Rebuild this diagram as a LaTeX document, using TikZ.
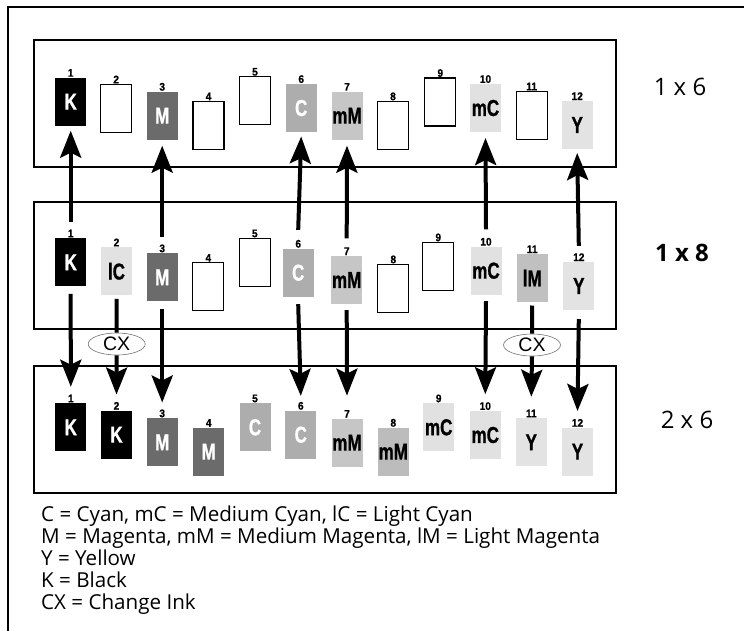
\documentclass[tikz,border=0pt]{standalone}
\usepackage{fontspec}
\usetikzlibrary{arrows.meta,shapes.geometric}
\setmainfont{Liberation Sans}
\newfontfamily\legfont{Open Sans}
\newfontfamily\inkfam[FakeStretch=0.74,FakeBold=1]{Liberation Sans}
\newfontfamily\numfam[FakeStretch=0.92,FakeBold=0.8]{Liberation Sans}
\newfontfamily\helv{Liberation Sans}
\definecolor{inkM}{HTML}{6B6B6B}
\definecolor{inkC}{HTML}{ADADAD}
\definecolor{inkmM}{HTML}{C6C6C6}
\definecolor{inkmMd}{HTML}{BCBCBC}
\definecolor{inkmC}{HTML}{E1E1E1}
\definecolor{inkY}{HTML}{E3E3E3}
\definecolor{inklC}{HTML}{E2E2E2}
\definecolor{inklM}{HTML}{C0C0C0}
\tikzset{
 inkbx/.style={minimum width=31pt, minimum height=48pt, inner sep=0pt, outer sep=0pt,
   font=\inkfam\bfseries\fontsize{23}{23}\selectfont},
 ebox/.style={inkbx, draw=black, line width=1.3pt, fill=white},
 kbox/.style={inkbx, fill=black, text=white},
 mbox/.style={inkbx, fill=inkM, text=white},
 cbox/.style={inkbx, fill=inkC, text=white},
 mmbox/.style={inkbx, fill=inkmM, text=black},
 mmdbox/.style={inkbx, fill=inkmMd, text=black},
 mcbox/.style={inkbx, fill=inkmC, text=black},
 ybox/.style={inkbx, fill=inkY, text=black},
 lcbox/.style={inkbx, fill=inklC, text=black},
 lmbox/.style={inkbx, fill=inklM, text=black},
 numlbl/.style={inner sep=0pt, outer sep=0pt, anchor=south, font=\numfam\bfseries\fontsize{11}{11}\selectfont},
 panel/.style={draw, line width=1.6pt, minimum width=582pt, minimum height=127pt, anchor=north west, inner sep=0pt, outer sep=0pt},
 bigarrow/.style={line width=4pt, -{Stealth[length=27pt,width=21pt,inset=5pt]}},
 shaft/.style={line width=4pt},
 cxnode/.style={ellipse, draw=black!55, line width=0.6pt, fill=white, minimum width=57pt, minimum height=22pt, inner sep=0pt, font=\helv\fontsize{19.5}{19.5}\selectfont},
 paneltitle/.style={inner sep=0pt, font=\legfont\fontsize{24}{24}\selectfont},
 legendline/.style={font=\legfont\fontsize{20.6}{20.6}\selectfont, anchor=base west, inner sep=0pt},
}
\newcommand\inkbox[6]{%
  \node[#4, anchor=north] (#1) at (#2,#3) {#5};
  \node[numlbl] (#1n) at ([yshift=1pt]#1.north) {#6};}
\begin{document}
\begin{tikzpicture}[x=1pt,y=-1pt]
\useasboundingbox (0,0) rectangle (744,630);
\draw[line width=2.6pt] (8,640) -- (8,7) -- (750,7);
% panels
\node[panel] (p1) at (34,40) {};
\node[panel] (p2) at (34,202) {};
\node[panel] (p3) at (34,366) {};
\node[paneltitle] (t1) at (680,87) {1 x 6};
\node[paneltitle] (t2) at (682,253) {\bfseries 1 x 8};
\node[paneltitle] (t3) at (687,420) {2 x 6};
% row 1
\inkbox{a1}{70.7}{77.7}{kbox}{K}{1}
\inkbox{a2}{116.2}{84.3}{ebox}{}{2}
\inkbox{a3}{162.2}{91.7}{mbox}{M}{3}
\inkbox{a4}{208.5}{101.3}{ebox}{}{4}
\inkbox{a5}{255}{76.7}{ebox}{}{5}
\inkbox{a6}{301.2}{84}{cbox}{C}{6}
\inkbox{a7}{347}{91.7}{mmbox}{mM}{7}
\inkbox{a8}{393}{101.3}{ebox}{}{8}
\inkbox{a9}{440.3}{78}{ebox}{}{9}
\inkbox{a10}{485.5}{84}{mcbox}{mC}{10}
\inkbox{a11}{531.7}{91.3}{ebox}{}{11}
\inkbox{a12}{577.2}{101}{ybox}{Y}{12}
% row 2
\inkbox{b1}{70.7}{238.3}{kbox}{K}{1}
\inkbox{b2}{116.5}{247.3}{lcbox}{lC}{2}
\inkbox{b3}{162.2}{253.3}{mbox}{M}{3}
\inkbox{b4}{208.3}{262.7}{ebox}{}{4}
\inkbox{b5}{254.8}{238.3}{ebox}{}{5}
\inkbox{b6}{298.2}{248.7}{cbox}{C}{6}
\inkbox{b7}{346.7}{256}{mmbox}{mM}{7}
\inkbox{b8}{393.3}{264.3}{ebox}{}{8}
\inkbox{b9}{438.3}{242.3}{ebox}{}{9}
\inkbox{b10}{486}{246.7}{mcbox}{mC}{10}
\inkbox{b11}{532.2}{254}{lmbox}{lM}{11}
\inkbox{b12}{578.8}{262}{ybox}{Y}{12}
% row 3
\inkbox{c1}{70.8}{403.3}{kbox}{K}{1}
\inkbox{c2}{116.5}{410.7}{kbox}{K}{2}
\inkbox{c3}{162.2}{418.3}{mbox}{M}{3}
\inkbox{c4}{208.7}{427.7}{mbox}{M}{4}
\inkbox{c5}{255}{403.3}{cbox}{C}{5}
\inkbox{c6}{300.8}{410.7}{cbox}{C}{6}
\inkbox{c7}{347}{418.7}{mmbox}{mM}{7}
\inkbox{c8}{393.3}{427.7}{mmdbox}{mM}{8}
\inkbox{c9}{438.7}{403.3}{mcbox}{mC}{9}
\inkbox{c10}{485.3}{411}{mcbox}{mC}{10}
\inkbox{c11}{531.3}{418.3}{ybox}{Y}{11}
\inkbox{c12}{577.5}{427.7}{ybox}{Y}{12}
% change-ink ellipses
\node[cxnode] (cx1) at (116.7,344) {CX};
\node[cxnode] (cx2) at (532,345) {CX};
% up arrows (1x8 -> 1x6)
\draw[bigarrow] ([yshift=8pt]b1n.north) -- ([yshift=-5pt]a1.south);
\draw[bigarrow] ([yshift=8pt]b3n.north) -- ([yshift=-6pt]a3.south);
\draw[bigarrow] ([yshift=10pt]b6n.north) -- ([yshift=-4.5pt]a6.south);
\draw[bigarrow] ([yshift=9pt]b7n.north) -- ([yshift=-6pt]a7.south);
\draw[bigarrow] ([yshift=8.5pt]b10n.north) -- ([yshift=-6pt]a10.south);
\draw[bigarrow] ([yshift=7.5pt]b12n.north) -- ([yshift=-4pt]a12.south);
% down arrows (1x8 -> 2x6)
\draw[bigarrow] ([yshift=-7.5pt]b1.south) -- ([yshift=8pt]c1n.north);
\draw[shaft] ([yshift=-3.5pt]b2.south) -- (cx1.north);
\draw[bigarrow] (cx1.south) -- ([yshift=7.5pt]c2n.north);
\draw[bigarrow] ([yshift=-8pt]b3.south) -- ([yshift=7pt]c3n.north);
\draw[bigarrow] ([yshift=-7.5pt]b6.south) -- ([yshift=6pt]c6n.north);
\draw[bigarrow] ([yshift=-6pt]b7.south) -- ([yshift=14.5pt]c7n.north);
\draw[bigarrow] ([yshift=-6.5pt]b10.south) -- ([yshift=8pt]c10n.north);
\draw[shaft] ([yshift=-3.5pt]b11.south) -- (cx2.north);
\draw[bigarrow] (cx2.south) -- ([yshift=13pt]c11n.north);
\draw[bigarrow] ([yshift=-9pt]b12.south) -- ([yshift=8pt]c12n.north);
% legend
\node[legendline] (l1) at (41,521) {C = Cyan, mC = Medium Cyan, lC = Light Cyan};
\node[legendline] (l2) at (41,543) {M = Magenta, mM = Medium Magenta, lM = Light Magenta};
\node[legendline] (l3) at (41,565) {Y = Yellow};
\node[legendline] (l4) at (41,587) {K = Black};
\node[legendline] (l5) at (41,609) {CX = Change Ink};
\end{tikzpicture}
\end{document}
